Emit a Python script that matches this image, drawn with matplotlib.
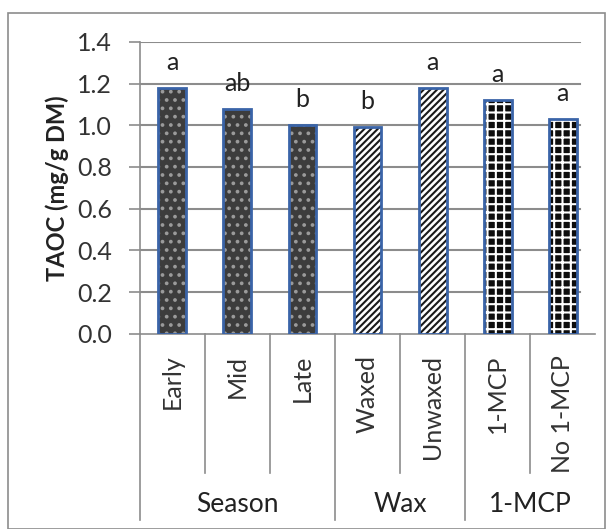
import matplotlib.pyplot as plt
import matplotlib.patches as mpatches

# Data
categories = ['Early', 'Mid', 'Late', 'Waxed', 'Unwaxed', '1-MCP', 'No 1-MCP']
taoc = [1.18, 1.08, 1.00, 0.99, 1.18, 1.12, 1.03]
letters = ['a', 'ab', 'b', 'b', 'a', 'a', 'a']
groups = ['Season', 'Wax', '1-MCP']
group_sizes = [3, 2, 2]
yticks = [0.0, 0.2, 0.4, 0.6, 0.8, 1.0, 1.2, 1.4]

plt.rcParams['font.family'] = ['Lato', 'DejaVu Sans']
plt.rcParams['hatch.linewidth'] = 1.5

fig = plt.figure(figsize=(6.11, 5.29), dpi=100)
ax = fig.add_axes([0.229, 0.369, 0.745, 0.552])

# outer frame around the whole figure
fig.patches.append(mpatches.Rectangle((0.013, 0.0), 0.977, 0.975, transform=fig.transFigure,
                                      fill=False, edgecolor='#8c8c8c', lw=1.2))

x = list(range(len(categories)))
width = 0.43
edge = '#3a64a8'

# fill styles per group
face = ['#3c3c3c'] * 3 + ['white'] * 2 + ['#0d0d0d'] * 2
hatch_col = ['#9a9a9a'] * 3 + ['#1a1a1a'] * 2 + ['white'] * 2
hatches = ['..'] * 3 + ['/////'] * 2 + ['++'] * 2

for i in x:
    ax.bar(x[i], taoc[i], width, color=face[i], hatch=hatches[i], edgecolor=hatch_col[i],
           linewidth=0, zorder=3)
    ax.bar(x[i], taoc[i], width, fill=False, edgecolor=edge, linewidth=2, zorder=4)
    ax.annotate(letters[i], (x[i], taoc[i]), xytext=(0, 10), textcoords='offset points',
                ha='center', va='bottom', fontsize=18, color='#222222')

ax.set_xlim(-0.5, len(categories) - 0.5)
ax.set_ylim(0, 1.4)
ax.set_yticks(yticks)
ax.set_yticklabels([f'{v:.1f}' for v in yticks], fontsize=18, color='#333333')
ax.tick_params(axis='y', length=8, width=1.2, color='#8c8c8c', pad=12)
ax.set_xticks(x)
ax.set_xticklabels(categories, rotation=90, fontsize=18, color='#333333')
ax.tick_params(axis='x', length=0, pad=15)

for v in yticks[1:]:
    ax.axhline(v, xmin=0, xmax=0.967, color='#8c8c8c', lw=1.5, zorder=1)

for s in ['top', 'right']:
    ax.spines[s].set_visible(False)
ax.spines['left'].set_color('#8c8c8c')
ax.spines['bottom'].set_color('#8c8c8c')
ax.spines['left'].set_linewidth(1.2)
ax.spines['bottom'].set_linewidth(1.2)

ax.set_ylabel('TAOC (mg/g DM)', fontsize=17, fontweight='bold', color='#222222', labelpad=6)

# category separators and group labels below the axis
trans = ax.get_xaxis_transform()
start = 0
for g, n in zip(groups, group_sizes):
    ax.plot([start - 0.5, start - 0.5], [0, -0.637], transform=trans, color='#8c8c8c',
            lw=1.2, clip_on=False)
    for k in range(1, n):
        ax.plot([start + k - 0.5] * 2, [0, -0.476], transform=trans, color='#8c8c8c',
                lw=1.2, clip_on=False)
    ax.text(start + (n - 1) / 2, -0.586, g, transform=trans, ha='center', va='center',
            fontsize=19, color='#222222')
    start += n

fig.savefig('out.png', dpi=100)
